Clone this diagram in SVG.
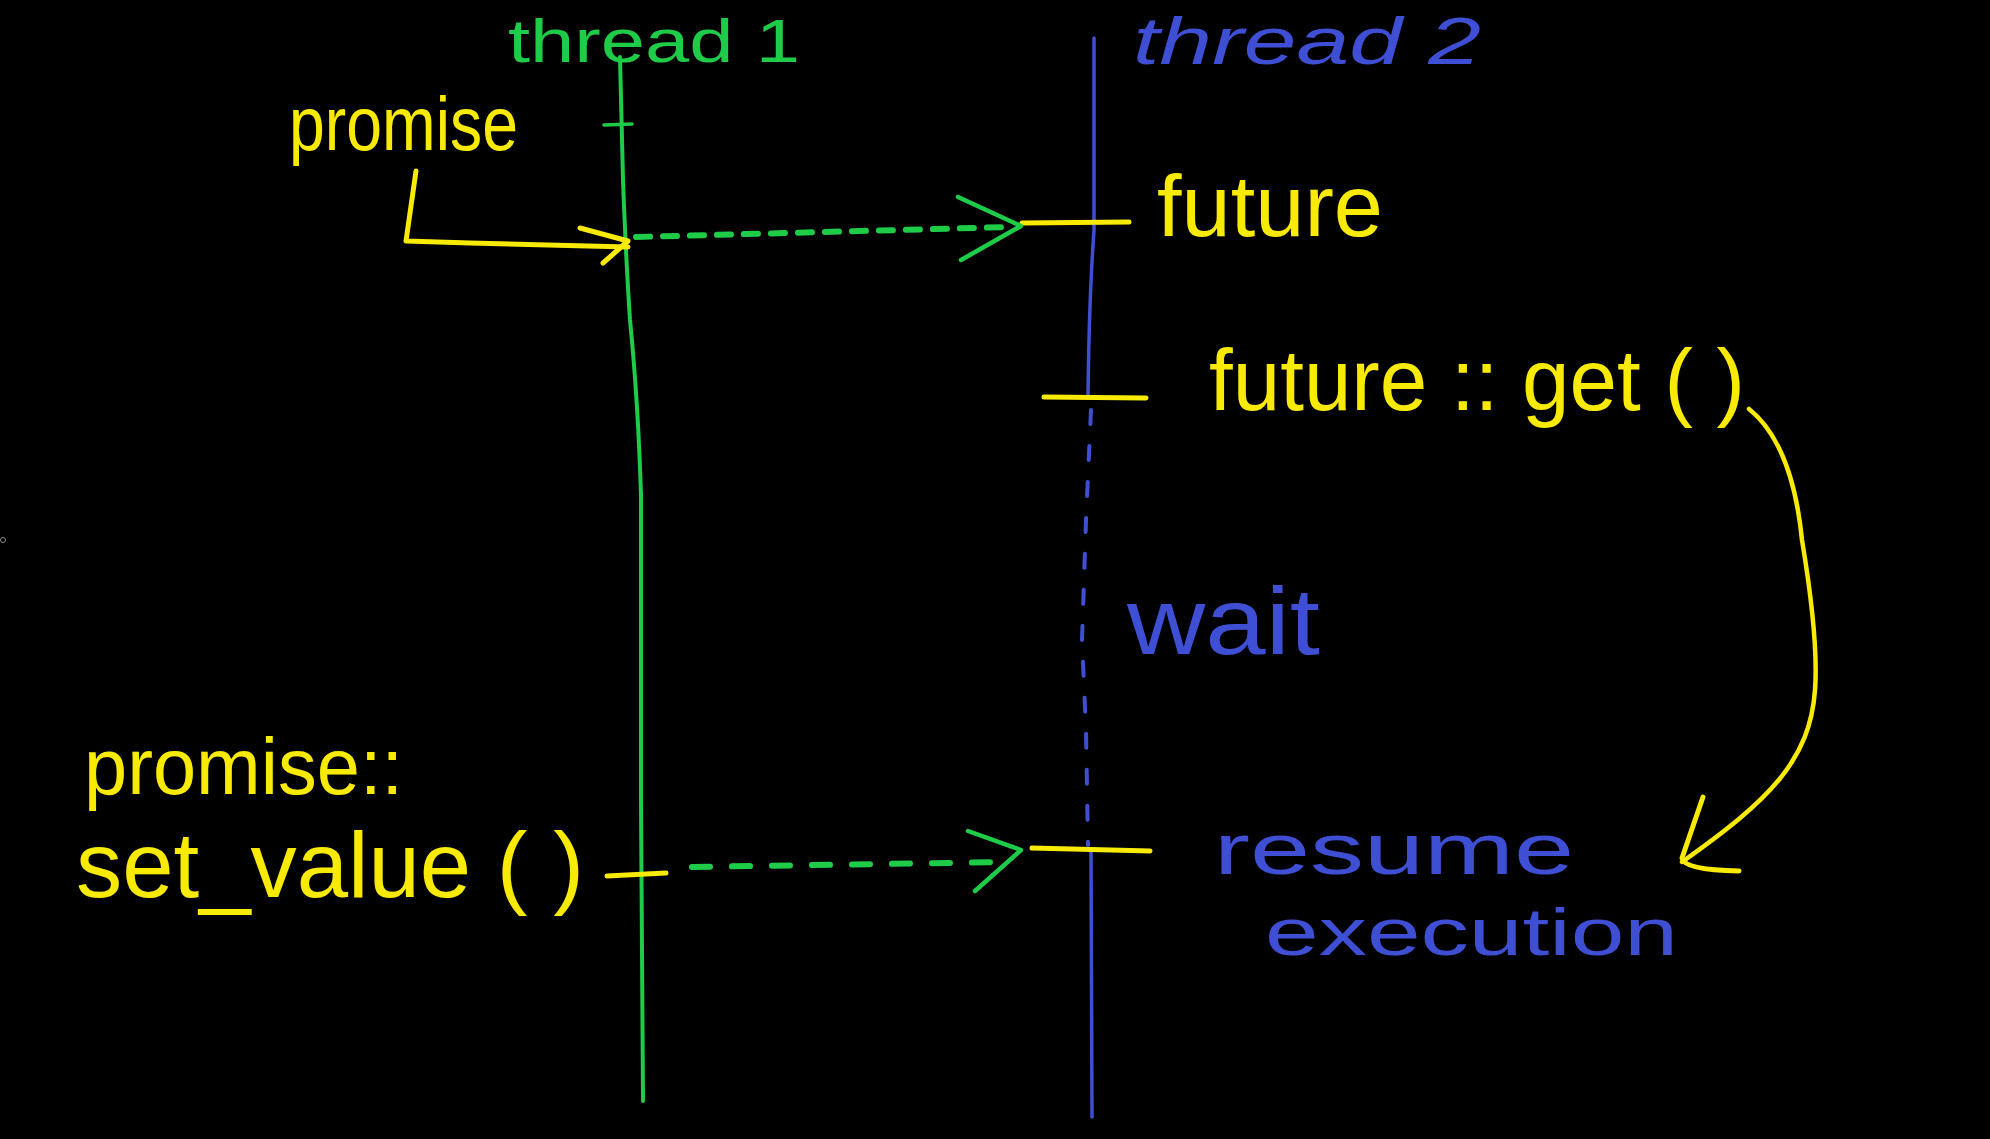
<svg xmlns="http://www.w3.org/2000/svg" width="1990" height="1139" viewBox="0 0 1990 1139">
<style>
.bg{fill:#000}
.g{stroke:#1fcc48;fill:none;stroke-linecap:round;stroke-linejoin:round}
.b{stroke:#3f4fd3;fill:none;stroke-linecap:round;stroke-linejoin:round}
.y{stroke:#f8ea00;fill:none;stroke-linecap:round;stroke-linejoin:round}
.t{font-family:"Liberation Sans","DejaVu Sans",sans-serif}
.tg{fill:#1fcc48}
.tb{fill:#3f4fd3}
.ty{fill:#f8ea00}
</style>
<rect class="bg" x="0" y="0" width="1990" height="1139"/>
<circle cx="3" cy="540" r="2.5" fill="none" stroke="#888" stroke-width="1"/>

<g id="thread1">
  <path class="g" stroke-width="4" d="M620,57 L623,180 Q626,260 630,320 Q638,400 641,495 L641,600 L641,800 L643,1101"/>
  <path class="g" stroke-width="3.5" d="M604,125 L632,124"/>
  <text class="t tg" x="508" y="62" font-size="62" textLength="292" lengthAdjust="spacingAndGlyphs">thread 1</text>
</g>

<g id="thread2">
  <path class="b" stroke-width="3.5" d="M1094,38 L1094,230 Q1089,300 1088,397"/>
  <path class="b" stroke-width="4" stroke-dasharray="14 22" d="M1091,410 L1086,520 L1082,640 L1086,730 L1088,845"/>
  <path class="b" stroke-width="3.5" d="M1091,852 L1092,1117"/>
  <text class="t tb" x="1133" y="64" font-size="66" font-style="italic" textLength="348" lengthAdjust="spacingAndGlyphs">thread 2</text>
</g>

<g id="promise">
  <text class="t ty" x="289" y="150" font-size="76" textLength="229" lengthAdjust="spacingAndGlyphs">promise</text>
</g>

<g id="future">
  <path class="y" stroke-width="5" d="M1022,223 L1129,222"/>
  <text class="t ty" x="1157" y="236" font-size="88" textLength="226" lengthAdjust="spacingAndGlyphs">future</text>
</g>

<g id="future-get">
  <path class="y" stroke-width="5" d="M1044,397 L1146,398"/>
  <text class="t ty" x="1209" y="410" font-size="88" textLength="536" lengthAdjust="spacingAndGlyphs">future :: get ( )</text>
</g>

<g id="wait">
  <text class="t tb" x="1127" y="654" font-size="94" textLength="193" lengthAdjust="spacingAndGlyphs">wait</text>
</g>

<g id="set-value">
  <path class="y" stroke-width="5" d="M607,876 L666,873"/>
  <text class="t ty" x="84" y="794" font-size="80" textLength="319" lengthAdjust="spacingAndGlyphs">promise::</text>
  <text class="t ty" x="76" y="897" font-size="92" textLength="508" lengthAdjust="spacingAndGlyphs">set_value ( )</text>
</g>

<g id="resume">
  <path class="y" stroke-width="5" d="M1032,848 L1150,851"/>
  <text class="t tb" x="1214" y="874" font-size="72" textLength="360" lengthAdjust="spacingAndGlyphs">resume</text>
  <text class="t tb" x="1265" y="955" font-size="66" textLength="413" lengthAdjust="spacingAndGlyphs">execution</text>
</g>

<g id="connectors">
  <path class="y" stroke-width="5" d="M416,171 L406,241 L470,243 L628,247"/>
  <path class="y" stroke-width="5" d="M580,228 L628,241 L603,263"/>
  <path class="g" stroke-width="6" stroke-dasharray="14 13" d="M636,237 L1010,227"/>
  <path class="g" stroke-width="4.5" d="M958,197 L1021,226 L961,260"/>
  <path class="g" stroke-width="6" stroke-dasharray="18 22" d="M692,867 L1010,862"/>
  <path class="g" stroke-width="4.5" d="M968,831 L1021,850 L975,891"/>
  <path class="y" stroke-width="4.5" d="M1749,409 C1775,430 1795,470 1802,540 C1812,600 1818,650 1815,690 C1810,760 1770,800 1682,862"/>
  <path class="y" stroke-width="5" d="M1703,797 L1682,858 Q1684,870 1739,871"/>
</g>
</svg>
